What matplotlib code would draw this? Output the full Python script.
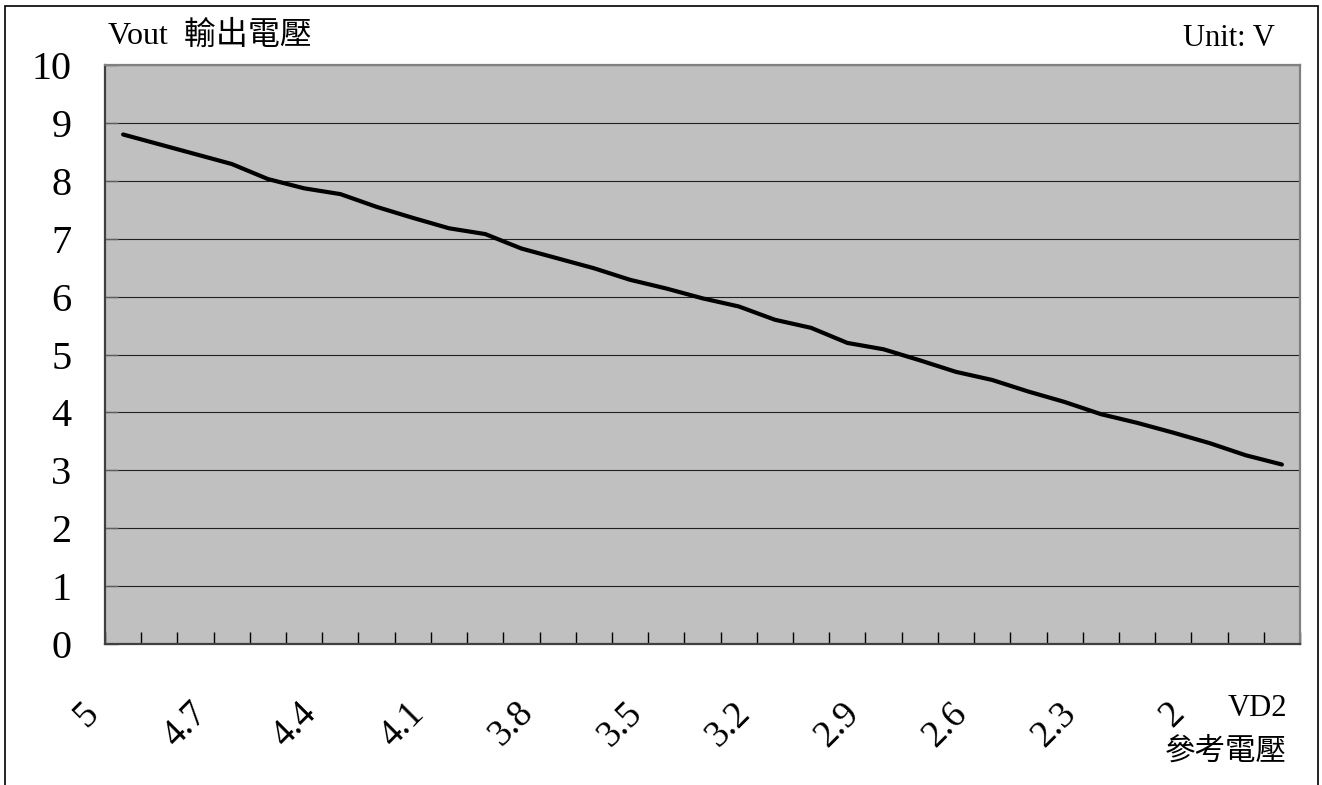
import matplotlib
matplotlib.use("Agg")
import matplotlib.pyplot as plt
from matplotlib.patches import Rectangle
from matplotlib.transforms import ScaledTranslation

# fonts: serif for latin, CJK fallback
FONTS = ['Liberation Serif', 'Noto Sans CJK TC']
plt.rcParams['font.family'] = FONTS

# category axis (VD2 reference voltage) and measured output
vd2 = ["5", "4.9", "4.8", "4.7", "4.6", "4.5", "4.4", "4.3", "4.2", "4.1",
       "4", "3.9", "3.8", "3.7", "3.6", "3.5", "3.4", "3.3", "3.2", "3.1",
       "3", "2.9", "2.8", "2.7", "2.6", "2.5", "2.4", "2.3", "2.2", "2.1",
       "2", "1.9", "1.8"]
vout = [8.80, 8.63, 8.46, 8.29, 8.03, 7.87, 7.77, 7.55, 7.36, 7.18,
        7.08, 6.83, 6.66, 6.49, 6.29, 6.14, 5.97, 5.83, 5.60, 5.46,
        5.20, 5.09, 4.90, 4.70, 4.56, 4.36, 4.18, 3.97, 3.82, 3.65,
        3.47, 3.26, 3.10]
y_ticks = [0, 1, 2, 3, 4, 5, 6, 7, 8, 9, 10]

W, H = 1322, 785
fig = plt.figure(figsize=(W / 100, H / 100), dpi=100)
ax = fig.add_axes([105 / W, (H - 644) / H, 1195 / W, (644 - 65) / H])
ax.set_facecolor('#C0C0C0')

x = list(range(len(vd2)))
ax.plot(x, vout, color='black', lw=3.0, solid_joinstyle='round',
        solid_capstyle='round', zorder=3)

ax.set_xlim(-0.5, len(vd2) - 0.5)
ax.set_ylim(0, 10)

# gridlines
ax.set_yticks(y_ticks)
ax.set_yticklabels([str(v) for v in y_ticks], fontsize=29)
ax.yaxis.grid(True, color='#202020', lw=0.8)
ax.set_axisbelow(True)
ax.tick_params(axis='y', direction='in', length=9, width=1, color='#606060', pad=24)

# category boundary ticks (minor) and labels every 3rd category (major)
ax.set_xticks([i - 0.5 for i in range(len(vd2) + 1)], minor=True)
ax.set_xticks(x[::3])
ax.set_xticklabels(vd2[::3], fontsize=27, rotation=45, ha='right',
                   va='center', rotation_mode='anchor')
ax.tick_params(axis='x', which='major', length=0, pad=46)
ax.tick_params(axis='x', which='minor', direction='in', length=9, width=1,
               color='black')
shift = ScaledTranslation(-30 / 100, 0, fig.dpi_scale_trans)
for lab in ax.get_xticklabels():
    lab.set_transform(lab.get_transform() + shift)

for side in ['left', 'bottom']:
    ax.spines[side].set_color('#404040')
    ax.spines[side].set_linewidth(1.6)
for side in ['top', 'right']:
    ax.spines[side].set_color('#808080')
    ax.spines[side].set_linewidth(1.6)

# titles
fig.text(108 / W, 1 - 36 / H, "Vout  輸出電壓", fontsize=23, va='center', ha='left')
fig.text(1275 / W, 1 - 38 / H, "Unit: V", fontsize=22, va='center', ha='right')
fig.text(1287 / W, 1 - 708 / H, "VD2", fontsize=22, va='center', ha='right')
fig.text(1287 / W, 1 - 752 / H, "參考電壓", fontsize=22, va='center', ha='right')

# outer frame
fig.add_artist(Rectangle((5 / W, -0.02), (1318 - 5) / W, 1.02 - 6 / H,
                         transform=fig.transFigure, fill=False,
                         edgecolor='black', lw=1.2))

fig.savefig("out.png", dpi=100)
